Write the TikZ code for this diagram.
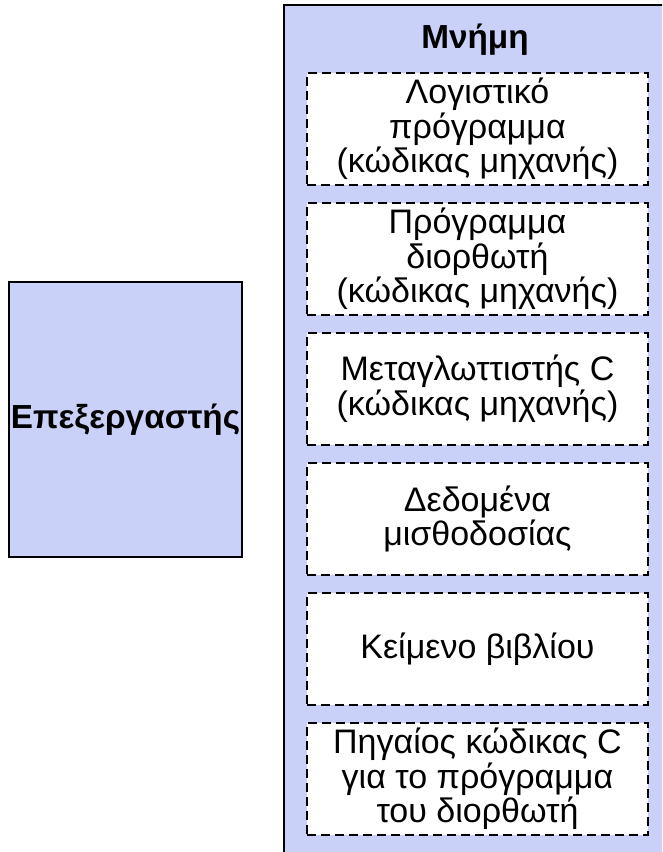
\documentclass[tikz,border=0pt]{standalone}
\usepackage{fontspec}
\setmainfont{Liberation Sans}
\usetikzlibrary{positioning}
\definecolor{memfill}{RGB}{202,209,248}
\tikzset{
	unitbox/.style={draw=black,line width=1.5pt,fill=memfill,inner sep=0pt},
	membox/.style={draw=black,line width=1.3pt,dash pattern=on 6.75pt off 3.75pt,fill=white,
		minimum width=255.75pt,minimum height=84pt,align=center,inner sep=0pt,outer sep=0pt,
		font=\fontsize{25.5}{26}\selectfont},
}

\begin{document}
\begin{tikzpicture}[x=1pt,y=1pt]
	
	\def\W{496.5}     % picture width
	\def\H{639}       % picture height
	\def\g{13.5pt}    % gap between memory parts
	\useasboundingbox (0,0) rectangle (\W,\H);
	\clip (0,0) rectangle (\W,\H);
	
	% PROCESSOR
	\node[unitbox,minimum width=174.75pt,minimum height=206.25pt,
	font=\bfseries\fontsize{25}{30}\selectfont] (cpu) at (94.1,324.4) {Επεξεργαστής};
	
	% MEMORY
	\node[unitbox,minimum width=307pt,minimum height=655.25pt] (mem) at (366.5,307.6) {};
	\node[anchor=base,font=\bfseries\fontsize{25}{30}\selectfont] (memtitle) at (356.25,602.5) {Μνήμη};
	
	% PARTS
	\node[membox,anchor=north] (acct) at (358.1,584.25) {Λογιστικό\\πρόγραμμα\\(κώδικας μηχανής)};
	\node[membox,below=\g of acct] (editor) {Πρόγραμμα\\διορθωτή\\(κώδικας μηχανής)};
	\node[membox,below=\g of editor] (compiler) {Μεταγλωττιστής C\\(κώδικας μηχανής)};
	\node[membox,below=\g of compiler] (payroll) {Δεδομένα\\μισθοδοσίας};
	\node[membox,below=\g of payroll] (booktext) {Κείμενο βιβλίου};
	\node[membox,below=\g of booktext] (source) {Πηγαίος κώδικας C\\για το πρόγραμμα\\του διορθωτή};
	
\end{tikzpicture}
\end{document}
